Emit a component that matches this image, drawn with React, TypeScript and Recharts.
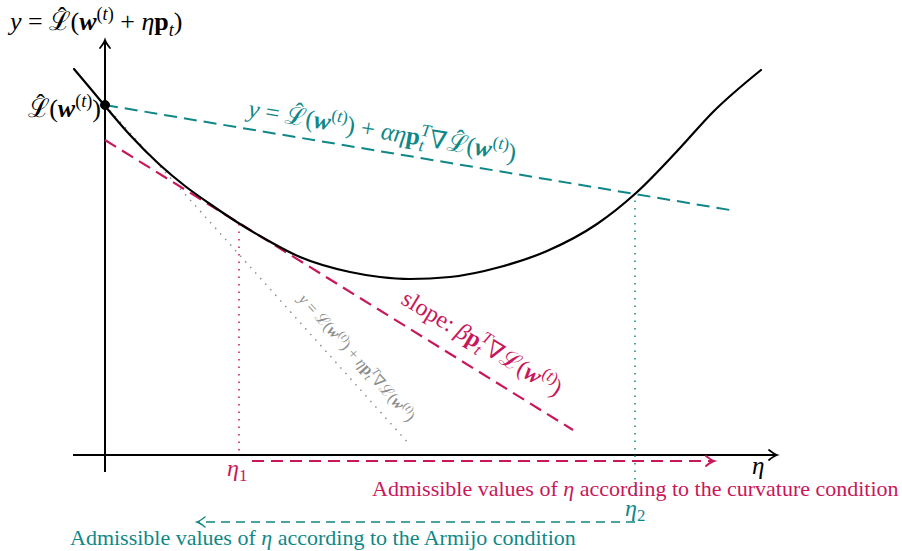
import React from 'react';
import { ComposedChart, Line, XAxis, YAxis, ReferenceLine, ReferenceDot } from 'recharts';

const curveEta = [-0.31, -0.15, 0, 0.25, 0.55, 0.8, 1.05, 1.35, 1.55, 1.95, 2.45, 2.75, 3.05, 3.45, 3.95, 4.42, 4.92, 5.31, 5.75, 6.08, 6.56];
const curveLoss = [3.86, 3.67, 3.49, 3.2, 2.9, 2.69, 2.51, 2.31, 2.19, 1.98, 1.83, 1.78, 1.76, 1.78, 1.88, 2.04, 2.31, 2.62, 3.07, 3.43, 3.85];

// Key values
const L0 = 3.5; // L(w^(t))
const eta1 = 1.34;
const eta2 = 5.3;
const armijoEnd = [6.25, 2.45];
const curvStart = [0, 3.15];
const curvEnd = [4.68, 0.25];
const tangentEnd = [3.05, 0.1];
const curveAtEta1 = 2.31;
const curveAtEta2 = 2.62;

const curveData = curveEta.map((x, i) => ({ x, y: curveLoss[i] }));

const TEAL = '#0f8787';
const RED = '#c8175a';
const GRAY = '#8c8c8c';
const FONT = '"Liberation Serif", "DejaVu Serif", serif';

type Seg = { t: string; it?: boolean; bf?: boolean; sup?: boolean; sub?: boolean; dx?: number; rise?: number; small?: boolean };

function segs(list: Seg[], fs: number) {
  let shift = 0;
  return list.map((s, i) => {
    const target = s.sup ? -0.4 * fs : s.sub ? 0.22 * fs : s.rise ? -s.rise * fs : 0;
    const dy = target - shift;
    shift = target;
    const small = s.sup || s.sub || s.small;
    return (
      <tspan
        key={i}
        dy={dy}
        dx={s.dx ? s.dx * fs : undefined}
        fontStyle={s.it ? 'italic' : 'normal'}
        fontWeight={s.bf ? 'bold' : 'normal'}
        fontSize={small ? fs * 0.7 : fs}
      >
        {s.t}
      </tspan>
    );
  });
}

const Lsc = '\u2112';
const Lhat = (): Seg[] => [{ t: Lsc }, { t: '\u02C6', dx: -0.52, rise: 0.2 }, { t: '(', dx: 0.16 }];
const Lplain = (): Seg[] => [{ t: Lsc }, { t: '(' }];
const wt = (): Seg[] => [
  { t: 'w', it: true, bf: true },
  { t: '(', sup: true },
  { t: 't', sup: true, it: true },
  { t: ')', sup: true },
];

const topLabel: Seg[] = [
  { t: 'y', it: true }, { t: ' = ' }, ...Lhat(), ...wt(), { t: ' + ' }, { t: 'η', it: true },
  { t: 'p', bf: true }, { t: 't', sub: true, it: true }, { t: ')' },
];
const leftLabel: Seg[] = [...Lhat(), ...wt(), { t: ')' }];
const armijoLabel: Seg[] = [
  { t: 'y', it: true }, { t: ' = ' }, ...Lhat(), ...wt(), { t: ')' }, { t: ' + ' },
  { t: 'αη', it: true }, { t: 'p', bf: true }, { t: 't', sub: true, it: true }, { t: 'T', sup: true, it: true, dx: -0.2 },
  { t: '∇' }, ...Lhat(), ...wt(), { t: ')' },
];
const slopeLabel: Seg[] = [
  { t: 'slope: ' }, { t: 'β', it: true }, { t: 'p', bf: true }, { t: 't', sub: true, it: true },
  { t: 'T', sup: true, it: true, dx: -0.2 }, { t: '∇' }, ...Lplain(), ...wt(), { t: ')' },
];
const tangentLabel: Seg[] = [
  { t: 'y', it: true }, { t: ' = ' }, ...Lplain(), ...wt(), { t: ')' }, { t: ' + ' },
  { t: 'η', it: true }, { t: 'p', bf: true }, { t: 't', sub: true, it: true }, { t: 'T', sup: true, it: true, dx: -0.2 },
  { t: '∇' }, ...Lplain(), ...wt(), { t: ')' },
];

function textShape(list: Seg[], fs: number, color: string, anchor: string, angle = 0) {
  return (p: any) => (
    <text
      x={p.cx}
      y={p.cy}
      fill={color}
      fontFamily={FONT}
      fontSize={fs}
      textAnchor={anchor}
      transform={angle ? `rotate(${angle} ${p.cx} ${p.cy})` : undefined}
    >
      {segs(list, fs)}
    </text>
  );
}

function arrowShape(angle: number, color: string, w = 1.6) {
  return (p: any) => (
    <path
      d="M -8 -5 Q -3 -1 0 0 Q -3 1 -8 5"
      fill="none"
      stroke={color}
      strokeWidth={w}
      strokeLinecap="round"
      transform={`translate(${p.cx} ${p.cy}) rotate(${angle})`}
    />
  );
}

export default function App() {
  return (
    <div style={{ position: 'absolute', left: 0, top: 0, background: '#fff' }}>
      <ComposedChart width={902} height={551} margin={{ top: 0, right: 0, bottom: 0, left: 0 }}>
        <XAxis type="number" dataKey="x" domain={[-1.05, 7.97]} allowDataOverflow hide />
        <YAxis type="number" domain={[-0.96, 4.55]} allowDataOverflow hide />

        {/* axes */}
        <ReferenceLine segment={[{ x: -0.32, y: 0 }, { x: 6.7, y: 0 }]} stroke="#000" strokeWidth={2} />
        <ReferenceLine segment={[{ x: 0, y: -0.17 }, { x: 0, y: 4.13 }]} stroke="#000" strokeWidth={2} />
        <ReferenceDot x={6.72} y={0} r={1} shape={arrowShape(0, '#000', 1.8)} />
        <ReferenceDot x={0} y={4.15} r={1} shape={arrowShape(-90, '#000', 1.8)} />

        {/* dotted guides */}
        <ReferenceLine segment={[{ x: 0, y: L0 }, { x: tangentEnd[0], y: tangentEnd[1] }]} stroke={GRAY} strokeWidth={1.5} strokeDasharray="1.5 6" />
        <ReferenceLine segment={[{ x: eta1, y: curveAtEta1 }, { x: eta1, y: 0 }]} stroke={RED} strokeWidth={1.5} strokeDasharray="1.5 6" />
        <ReferenceLine segment={[{ x: eta2, y: curveAtEta2 }, { x: eta2, y: -0.42 }]} stroke={TEAL} strokeWidth={1.5} strokeDasharray="1.5 6" />

        {/* dashed lines */}
        <ReferenceLine segment={[{ x: 0, y: L0 }, { x: armijoEnd[0], y: armijoEnd[1] }]} stroke={TEAL} strokeWidth={2} strokeDasharray="13 7" />
        <ReferenceLine segment={[{ x: curvStart[0], y: curvStart[1] }, { x: curvEnd[0], y: curvEnd[1] }]} stroke={RED} strokeWidth={2.2} strokeDasharray="13 7" />

        <Line data={curveData} dataKey="y" type="monotone" stroke="#000" strokeWidth={2.2} strokeLinecap="round" dot={false} activeDot={false} isAnimationActive={false} />

        {/* admissible-interval arrows */}
        <ReferenceLine segment={[{ x: 1.47, y: -0.06 }, { x: 6.07, y: -0.06 }]} stroke={RED} strokeWidth={2} strokeDasharray="12 7" />
        <ReferenceDot x={6.09} y={-0.06} r={1} shape={arrowShape(0, RED, 2)} />
        <ReferenceLine segment={[{ x: eta2, y: -0.67 }, { x: 0.94, y: -0.67 }]} stroke={TEAL} strokeWidth={1.5} strokeDasharray="9 6" />
        <ReferenceDot x={0.92} y={-0.67} r={1} shape={arrowShape(180, TEAL, 1.5)} />

        <ReferenceDot x={0} y={L0} r={4.5} fill="#000" stroke="#000" />

        {/* labels */}
        <ReferenceDot x={-0.95} y={4.25} r={1} shape={textShape(topLabel, 26, '#000', 'start')} />
        <ReferenceDot x={-0.04} y={3.38} r={1} shape={textShape(leftLabel, 26, '#000', 'end')} />
        <ReferenceDot x={2.76} y={3.16} r={1} shape={textShape(armijoLabel, 25, TEAL, 'middle', 9.5)} />
        <ReferenceDot x={3.73} y={1.05} r={1} shape={textShape(slopeLabel, 24, RED, 'middle', 31)} />
        <ReferenceDot x={2.48} y={0.94} r={1} shape={textShape(tangentLabel, 16, GRAY, 'middle', 48)} />
        <ReferenceDot x={6.47} y={-0.19} r={1} shape={textShape([{ t: 'η', it: true }], 25, '#000', 'start')} />
        <ReferenceDot x={1.22} y={-0.21} r={1} shape={textShape([{ t: 'η', it: true }, { t: '1', sub: true }], 24, RED, 'start')} />
        <ReferenceDot x={5.2} y={-0.61} r={1} shape={textShape([{ t: 'η', it: true }, { t: '2', sub: true }], 24, TEAL, 'start')} />
        <ReferenceDot x={2.67} y={-0.41} r={1} shape={textShape([{ t: 'Admissible values of ' }, { t: 'η', it: true }, { t: ' according to the curvature condition' }], 22, RED, 'start')} />
        <ReferenceDot x={-0.35} y={-0.9} r={1} shape={textShape([{ t: 'Admissible values of ' }, { t: 'η', it: true }, { t: ' according to the Armijo condition' }], 22, TEAL, 'start')} />
      </ComposedChart>
    </div>
  );
}
